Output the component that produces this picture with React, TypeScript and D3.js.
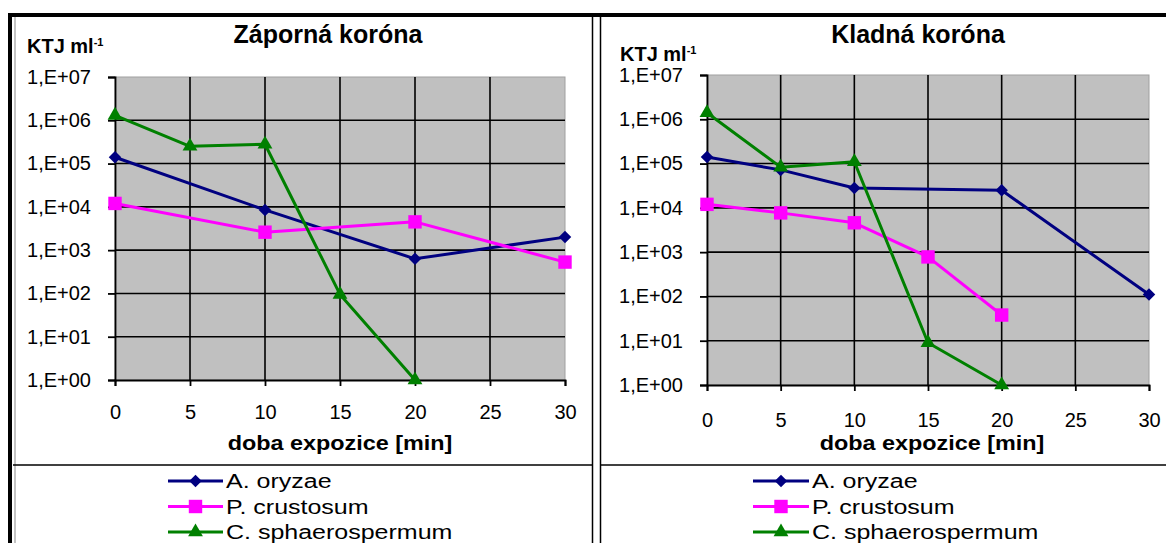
import { useEffect, useRef } from 'react';
import * as d3 from 'd3';

const seriesNames = ['A. oryzae', 'P. crustosum', 'C. sphaerospermum'];
const seriesColors = ['#000080', '#ff00ff', '#008000'];
const seriesMarkers = ['diamond', 'square', 'triangle'];

const xTicks = [0, 5, 10, 15, 20, 25, 30];
const yTickValues = [1, 10, 100, 1000, 10000, 100000, 1000000, 10000000];
const yTickLabels = ['1,E+00', '1,E+01', '1,E+02', '1,E+03', '1,E+04', '1,E+05', '1,E+06', '1,E+07'];

// Záporná koróna
const negOryzaeTime = [0, 10, 20, 30];
const negOryzae = [140000, 8500, 630, 2000];
const negCrustosumTime = [0, 10, 20, 30];
const negCrustosum = [12000, 2600, 4500, 530];
const negSphaeroTime = [0, 5, 10, 15, 20];
const negSphaero = [1300000, 250000, 280000, 95, 1];

// Kladná koróna
const posOryzaeTime = [0, 5, 10, 20, 30];
const posOryzae = [140000, 72000, 28000, 25000, 110];
const posCrustosumTime = [0, 5, 10, 15, 20];
const posCrustosum = [12000, 7700, 4600, 780, 38];
const posSphaeroTime = [0, 5, 10, 15, 20];
const posSphaero = [1400000, 83000, 110000, 9, 1];

const FONT = "Arial, 'Liberation Sans', sans-serif";

const markerPath = (kind) => {
    if (kind === 'square') return d3.symbol(d3.symbolSquare, 180)();
    if (kind === 'triangle') return d3.symbol(d3.symbolTriangle, 95)();
    return d3.symbol(d3.symbolSquare, 78)();
};

const drawPanel = (svg, cfg) => {
    const g = svg.append('g');
    const x = d3.scaleLinear().domain([0, 30]).range([cfg.left, cfg.right]);
    const y = d3.scaleLog().domain([1, 1e7]).range([cfg.bottom, cfg.top]);

    // plot area
    g.append('rect')
        .attr('x', cfg.left).attr('y', cfg.top)
        .attr('width', cfg.right - cfg.left).attr('height', cfg.bottom - cfg.top)
        .attr('fill', '#c0c0c0').attr('stroke', '#a0a0a0').attr('stroke-width', 1);

    // grid
    g.selectAll('.hgrid')
        .data(yTickValues.slice(1, -1))
        .join('line')
        .attr('x1', cfg.left).attr('x2', cfg.right)
        .attr('y1', d => y(d)).attr('y2', d => y(d))
        .attr('stroke', '#000').attr('stroke-width', 1.6);
    g.selectAll('.vgrid')
        .data(xTicks.slice(1, -1))
        .join('line')
        .attr('x1', d => x(d)).attr('x2', d => x(d))
        .attr('y1', cfg.top).attr('y2', cfg.bottom)
        .attr('stroke', '#000').attr('stroke-width', 1.6);

    // axes
    const yAxis = g.append('g')
        .attr('transform', 'translate(' + cfg.left + ',0)')
        .call(d3.axisLeft(y).tickValues(yTickValues).tickSize(7).tickPadding(17)
            .tickFormat((d, i) => yTickLabels[i]));
    const xAxis = g.append('g')
        .attr('transform', 'translate(0,' + cfg.bottom + ')')
        .call(d3.axisBottom(x).tickValues(xTicks).tickSize(6).tickPadding(cfg.xPad));
    [yAxis, xAxis].forEach(a => {
        a.select('.domain').attr('stroke', '#000').attr('stroke-width', 1.8);
        a.selectAll('.tick line').attr('stroke', '#000').attr('stroke-width', 1.8);
        a.selectAll('.tick text')
            .attr('fill', '#000')
            .style('font-family', FONT)
            .style('font-size', '20px');
    });

    // series
    cfg.series.forEach((s, i) => {
        const pts = s.time.map((t, j) => [x(t), y(s.values[j])]);
        g.append('path')
            .attr('d', d3.line()(pts))
            .attr('fill', 'none')
            .attr('stroke', seriesColors[i])
            .attr('stroke-width', 3)
            .attr('stroke-linejoin', 'round');
        g.selectAll('.m' + i)
            .data(pts)
            .join('path')
            .attr('d', markerPath(seriesMarkers[i]))
            .attr('transform', d => 'translate(' + d[0] + ',' + d[1] + ')' + (seriesMarkers[i] === 'diamond' ? ' rotate(45)' : ''))
            .attr('fill', seriesColors[i]);
    });

    // titles
    g.append('text')
        .attr('x', cfg.titleX).attr('y', 43)
        .attr('text-anchor', 'middle')
        .style('font-family', FONT).style('font-size', '25px').style('font-weight', 'bold')
        .text(cfg.title);

    const unit = g.append('text')
        .attr('x', cfg.unitX).attr('y', cfg.unitY)
        .style('font-family', FONT).style('font-size', '20px').style('font-weight', 'bold');
    unit.append('tspan').text('KTJ ml');
    unit.append('tspan').attr('dy', -7).style('font-size', '11px').text('-1');

    g.append('text')
        .attr('transform', 'translate(' + cfg.xTitleX + ',450) scale(1.2,1)')
        .attr('text-anchor', 'middle')
        .style('font-family', FONT).style('font-size', '19.5px').style('font-weight', 'bold')
        .text('doba expozice [min]');

    // legend
    seriesNames.forEach((name, i) => {
        const ly = 481 + i * 25.5;
        g.append('line')
            .attr('x1', cfg.legendX0).attr('x2', cfg.legendX1)
            .attr('y1', ly).attr('y2', ly)
            .attr('stroke', seriesColors[i]).attr('stroke-width', 3);
        const mx = (cfg.legendX0 + cfg.legendX1) / 2;
        g.append('path')
            .attr('d', markerPath(seriesMarkers[i]))
            .attr('transform', 'translate(' + mx + ',' + ly + ')' + (seriesMarkers[i] === 'diamond' ? ' rotate(45)' : ''))
            .attr('fill', seriesColors[i]);
        g.append('text')
            .attr('transform', 'translate(' + (cfg.legendX1 + 3) + ',' + (ly + 7) + ') scale(1.25,1)')
            .style('font-family', FONT).style('font-size', '20px')
            .text(name);
    });
};

const App = () => {
    const svgRef = useRef(null);
    const width = 1166;
    const height = 543;

    useEffect(() => {
        const svg = d3.select(svgRef.current);
        svg.selectAll('*').remove();

        svg.append('rect').attr('width', width).attr('height', height).attr('fill', '#fff');

        drawPanel(svg, {
            left: 115, right: 565, top: 77, bottom: 380,
            title: 'Záporná koróna', titleX: 328,
            unitX: 27, unitY: 53, xTitleX: 340, xPad: 19,
            legendX0: 168, legendX1: 223,
            series: [
                { time: negOryzaeTime, values: negOryzae },
                { time: negCrustosumTime, values: negCrustosum },
                { time: negSphaeroTime, values: negSphaero },
            ],
        });
        drawPanel(svg, {
            left: 707, right: 1149, top: 75, bottom: 385,
            title: 'Kladná koróna', titleX: 918,
            unitX: 620, unitY: 61, xTitleX: 932, xPad: 22,
            legendX0: 753, legendX1: 809,
            series: [
                { time: posOryzaeTime, values: posOryzae },
                { time: posCrustosumTime, values: posCrustosum },
                { time: posSphaeroTime, values: posSphaero },
            ],
        });

        // frames
        const frame = svg.append('g').attr('stroke', '#000').attr('fill', 'none');
        frame.append('line').attr('x1', 8).attr('x2', width).attr('y1', 15).attr('y2', 15).attr('stroke-width', 4);
        frame.append('line').attr('x1', 10).attr('x2', 10).attr('y1', 13).attr('y2', height).attr('stroke-width', 4);
        frame.append('line').attr('x1', 15).attr('x2', 15).attr('y1', 17).attr('y2', height).attr('stroke', '#888').attr('stroke-width', 1);
        frame.append('line').attr('x1', 592.5).attr('x2', 592.5).attr('y1', 15).attr('y2', height).attr('stroke-width', 1.5);
        frame.append('line').attr('x1', 600.5).attr('x2', 600.5).attr('y1', 15).attr('y2', height).attr('stroke-width', 1.5);
        frame.append('line').attr('x1', 13).attr('x2', 592).attr('y1', 465).attr('y2', 465).attr('stroke-width', 1.5);
        frame.append('line').attr('x1', 601).attr('x2', width).attr('y1', 465).attr('y2', 465).attr('stroke-width', 1.5);
    }, []);

    return (
        <div>
            <svg ref={svgRef} width={width} height={height} style={{ position: 'absolute', left: 0, top: 0 }}></svg>
        </div>
    );
};

export default App;
